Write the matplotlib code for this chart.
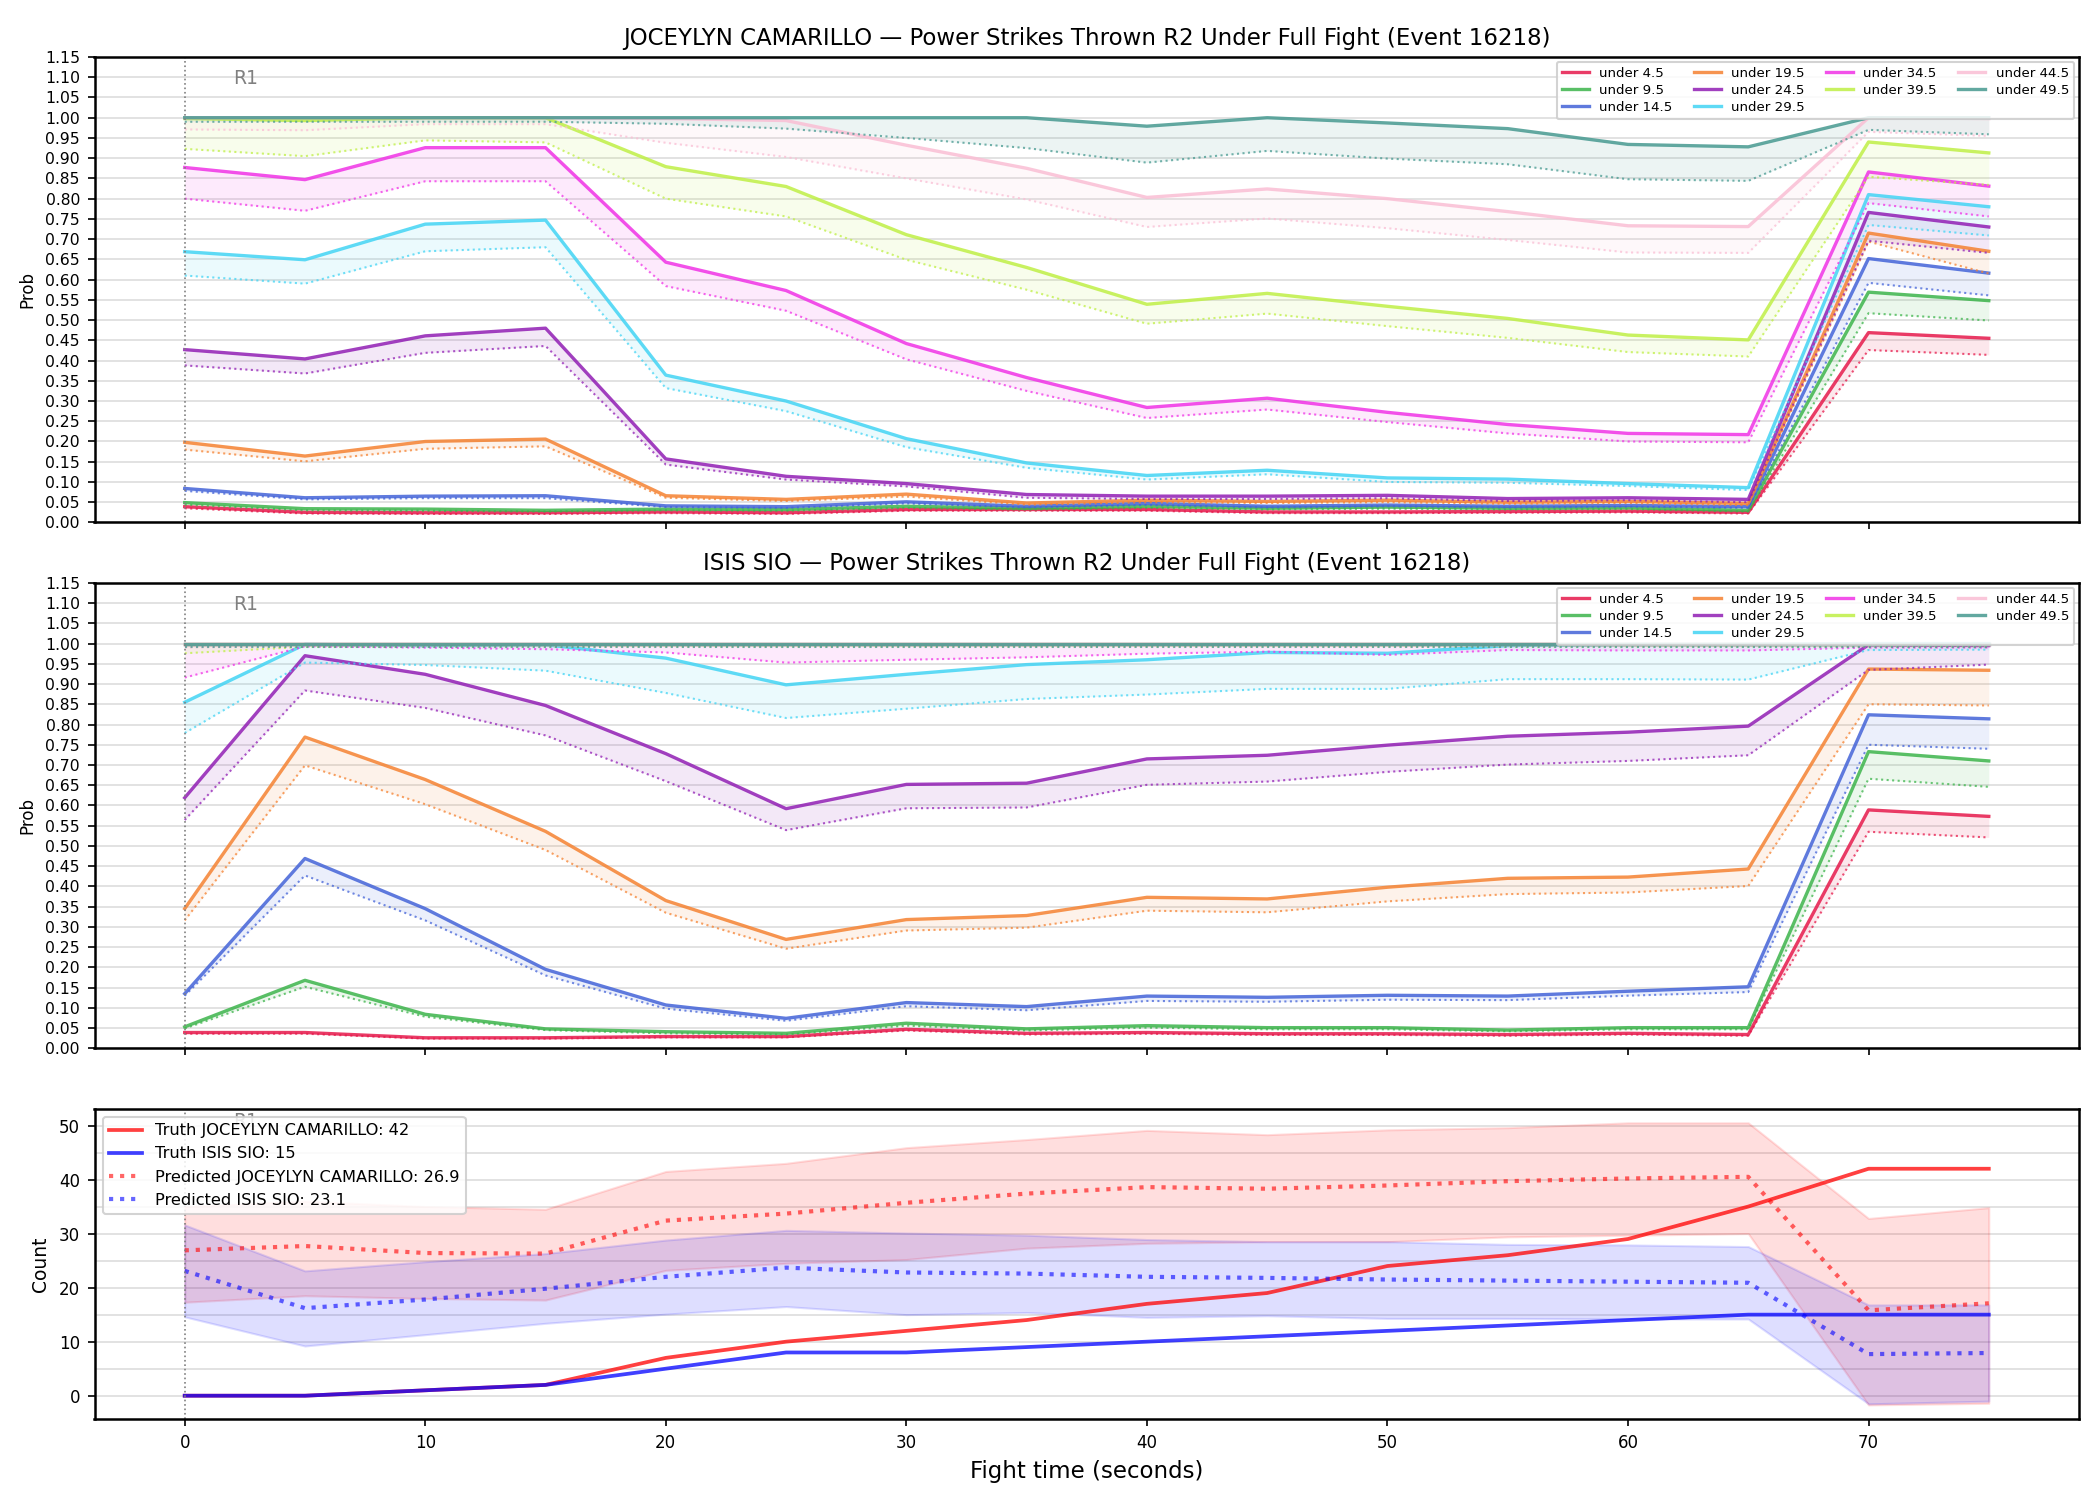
import numpy as np
import matplotlib
matplotlib.use("Agg")
import matplotlib.pyplot as plt

# Time axis (seconds)
times = [0, 5, 10, 15, 20, 25, 30, 35, 40, 45, 50, 55, 60, 65, 70, 75]

# Thresholds and colors
lines = ["4.5", "9.5", "14.5", "19.5", "24.5", "29.5", "34.5", "39.5", "44.5", "49.5"]
colors = ["#e6194b", "#3cb44b", "#4363d8", "#f58231", "#911eb4",
          "#42d4f4", "#f032e6", "#bfef45", "#fabed4", "#469990"]

# JOCEYLYN CAMARILLO - upper (solid) curves
joc_upper = [
    [0.039, 0.025, 0.024, 0.024, 0.026, 0.024, 0.032, 0.032, 0.032, 0.026, 0.026, 0.027, 0.028, 0.025, 0.469, 0.455],
    [0.049, 0.034, 0.033, 0.030, 0.033, 0.032, 0.040, 0.035, 0.040, 0.035, 0.038, 0.035, 0.036, 0.030, 0.569, 0.548],
    [0.084, 0.061, 0.065, 0.066, 0.041, 0.039, 0.051, 0.040, 0.047, 0.040, 0.043, 0.040, 0.042, 0.039, 0.652, 0.616],
    [0.198, 0.164, 0.200, 0.206, 0.066, 0.057, 0.070, 0.048, 0.055, 0.052, 0.055, 0.050, 0.052, 0.047, 0.715, 0.670],
    [0.427, 0.404, 0.461, 0.480, 0.157, 0.114, 0.096, 0.069, 0.065, 0.065, 0.067, 0.059, 0.061, 0.057, 0.766, 0.730],
    [0.669, 0.649, 0.737, 0.747, 0.364, 0.300, 0.207, 0.147, 0.116, 0.129, 0.110, 0.107, 0.096, 0.086, 0.810, 0.780],
    [0.877, 0.847, 0.926, 0.926, 0.643, 0.573, 0.442, 0.358, 0.284, 0.307, 0.272, 0.242, 0.220, 0.217, 0.866, 0.831],
    [0.998, 0.993, 1.000, 1.000, 0.879, 0.830, 0.711, 0.630, 0.539, 0.566, 0.534, 0.504, 0.463, 0.451, 0.940, 0.913],
    [1.000, 1.000, 1.000, 1.000, 0.998, 0.993, 0.932, 0.875, 0.803, 0.824, 0.800, 0.768, 0.733, 0.731, 1.000, 0.998],
    [1.000, 1.000, 1.000, 1.000, 1.000, 1.000, 1.000, 1.000, 0.979, 1.000, 0.987, 0.973, 0.934, 0.928, 1.000, 1.000],
]
# JOCEYLYN CAMARILLO - lower (dotted) curves
joc_lower = [
    [0.035, 0.022, 0.021, 0.021, 0.023, 0.021, 0.029, 0.029, 0.029, 0.023, 0.023, 0.024, 0.025, 0.022, 0.426, 0.414],
    [0.044, 0.030, 0.029, 0.027, 0.030, 0.029, 0.036, 0.032, 0.036, 0.032, 0.034, 0.032, 0.033, 0.027, 0.517, 0.499],
    [0.078, 0.057, 0.060, 0.060, 0.038, 0.036, 0.047, 0.037, 0.043, 0.037, 0.040, 0.037, 0.039, 0.036, 0.592, 0.561],
    [0.180, 0.151, 0.182, 0.188, 0.061, 0.053, 0.064, 0.044, 0.050, 0.048, 0.050, 0.046, 0.048, 0.043, 0.694, 0.615],
    [0.388, 0.368, 0.419, 0.436, 0.143, 0.106, 0.089, 0.061, 0.058, 0.058, 0.060, 0.053, 0.055, 0.050, 0.696, 0.666],
    [0.610, 0.590, 0.670, 0.680, 0.332, 0.275, 0.186, 0.135, 0.106, 0.119, 0.100, 0.098, 0.090, 0.080, 0.735, 0.709],
    [0.800, 0.770, 0.843, 0.843, 0.584, 0.523, 0.403, 0.325, 0.258, 0.279, 0.248, 0.220, 0.200, 0.198, 0.789, 0.756],
    [0.923, 0.905, 0.944, 0.939, 0.800, 0.756, 0.649, 0.575, 0.491, 0.516, 0.485, 0.456, 0.421, 0.410, 0.854, 0.834],
    [0.971, 0.969, 0.984, 0.984, 0.938, 0.903, 0.850, 0.798, 0.730, 0.751, 0.727, 0.698, 0.667, 0.666, 0.965, 0.955],
    [0.990, 0.990, 0.990, 0.990, 0.985, 0.973, 0.950, 0.925, 0.889, 0.918, 0.899, 0.885, 0.848, 0.844, 0.970, 0.959],
]

# ISIS SIO - upper (solid) curves
isis_upper = [
    [0.039, 0.039, 0.026, 0.026, 0.029, 0.029, 0.047, 0.037, 0.039, 0.036, 0.036, 0.034, 0.037, 0.034, 0.589, 0.573],
    [0.053, 0.168, 0.084, 0.048, 0.041, 0.037, 0.062, 0.048, 0.056, 0.051, 0.051, 0.045, 0.051, 0.051, 0.733, 0.710],
    [0.135, 0.469, 0.345, 0.195, 0.107, 0.074, 0.113, 0.103, 0.129, 0.126, 0.131, 0.129, 0.141, 0.152, 0.824, 0.814],
    [0.345, 0.769, 0.664, 0.536, 0.365, 0.269, 0.318, 0.328, 0.373, 0.369, 0.398, 0.420, 0.423, 0.443, 0.937, 0.934],
    [0.619, 0.970, 0.924, 0.847, 0.728, 0.592, 0.652, 0.655, 0.715, 0.724, 0.749, 0.771, 0.781, 0.796, 0.997, 0.995],
    [0.855, 0.998, 0.995, 0.997, 0.964, 0.898, 0.924, 0.948, 0.960, 0.978, 0.976, 0.995, 0.998, 0.998, 1.000, 1.000],
    [1.000, 1.000, 1.000, 1.000, 1.000, 1.000, 1.000, 1.000, 1.000, 1.000, 1.000, 1.000, 1.000, 1.000, 1.000, 1.000],
    [1.000, 1.000, 1.000, 1.000, 1.000, 1.000, 1.000, 1.000, 1.000, 1.000, 1.000, 1.000, 1.000, 1.000, 1.000, 1.000],
    [1.000, 1.000, 1.000, 1.000, 1.000, 1.000, 1.000, 1.000, 1.000, 1.000, 1.000, 1.000, 1.000, 1.000, 1.000, 1.000],
    [1.000, 1.000, 1.000, 1.000, 1.000, 1.000, 1.000, 1.000, 1.000, 1.000, 1.000, 1.000, 1.000, 1.000, 1.000, 1.000],
]
# ISIS SIO - lower (dotted) curves
isis_lower = [
    [0.036, 0.036, 0.024, 0.024, 0.027, 0.027, 0.044, 0.034, 0.036, 0.033, 0.033, 0.031, 0.034, 0.031, 0.535, 0.521],
    [0.049, 0.152, 0.078, 0.045, 0.037, 0.034, 0.056, 0.044, 0.051, 0.047, 0.047, 0.042, 0.047, 0.047, 0.666, 0.646],
    [0.130, 0.427, 0.316, 0.180, 0.098, 0.068, 0.104, 0.094, 0.117, 0.115, 0.120, 0.119, 0.130, 0.139, 0.750, 0.740],
    [0.316, 0.699, 0.603, 0.490, 0.335, 0.246, 0.291, 0.298, 0.340, 0.336, 0.363, 0.381, 0.385, 0.401, 0.850, 0.847],
    [0.564, 0.884, 0.841, 0.773, 0.660, 0.539, 0.593, 0.595, 0.651, 0.659, 0.683, 0.701, 0.710, 0.724, 0.935, 0.948],
    [0.779, 0.953, 0.947, 0.933, 0.878, 0.816, 0.839, 0.863, 0.874, 0.888, 0.888, 0.912, 0.912, 0.911, 0.984, 0.985],
    [0.916, 0.993, 0.990, 0.986, 0.978, 0.953, 0.960, 0.966, 0.975, 0.980, 0.972, 0.984, 0.983, 0.983, 0.990, 0.990],
    [0.976, 0.992, 0.993, 0.993, 0.993, 0.993, 0.993, 0.993, 0.993, 0.993, 0.993, 0.993, 0.993, 0.993, 0.993, 0.993],
    [0.990, 0.995, 0.995, 0.995, 0.995, 0.995, 0.995, 0.995, 0.995, 0.995, 0.995, 0.995, 0.995, 0.995, 0.995, 0.995],
    [0.992, 0.992, 0.992, 0.992, 0.992, 0.992, 0.992, 0.992, 0.992, 0.992, 0.992, 0.992, 0.992, 0.992, 0.992, 0.992],
]

# Count panel data
truth_joc = [0, 0, 1, 2, 7, 10, 12, 14, 17, 19, 24, 26, 29, 35, 42, 42]
truth_isis = [0, 0, 1, 2, 5, 8, 8, 9, 10, 11, 12, 13, 14, 15, 15, 15]
pred_joc = [26.9, 27.7, 26.4, 26.3, 32.4, 33.7, 35.7, 37.4, 38.6, 38.3, 38.9, 39.7, 40.2, 40.5, 15.8, 17.1]
pred_joc_hi = [35.0, 36.0, 35.0, 34.5, 41.5, 43.0, 45.9, 47.4, 49.1, 48.3, 49.2, 49.6, 50.5, 50.5, 32.8, 34.8]
pred_joc_lo = [17.3, 18.5, 18.0, 17.7, 23.2, 24.5, 25.2, 27.3, 28.2, 28.5, 28.5, 29.4, 29.7, 30.0, -1.7, -1.4]
pred_isis = [23.1, 16.2, 17.8, 19.8, 22.0, 23.7, 22.8, 22.6, 22.0, 21.8, 21.5, 21.3, 21.1, 20.9, 7.7, 7.9]
pred_isis_hi = [31.6, 23.1, 24.8, 26.3, 28.8, 30.6, 30.1, 29.7, 28.9, 28.5, 28.5, 28.0, 27.9, 27.6, 16.8, 16.8]
pred_isis_lo = [14.6, 9.2, 11.3, 13.4, 15.1, 16.5, 15.0, 15.4, 14.5, 14.8, 14.3, 14.3, 14.2, 14.2, -1.5, -1.0]

# Figure layout
fig, axes = plt.subplots(3, 1, figsize=(14, 10), dpi=150, sharex=True,
                         gridspec_kw={"height_ratios": [1.5, 1.5, 1]})
fig.subplots_adjust(left=0.045, right=0.99, top=0.962, bottom=0.054, hspace=0.146)


def prob_panel(ax, name, upper, lower):
    handles = []
    for i, lab in enumerate(lines):
        h, = ax.plot(times, upper[i], color=colors[i], lw=1.6, alpha=0.85,
                     label="under " + lab)
        ax.plot(times, lower[i], color=colors[i], lw=1.0, ls=":", alpha=0.75)
        ax.fill_between(times, lower[i], upper[i], color=colors[i], alpha=0.1, lw=0)
        handles.append(h)
    ax.set_ylim(0, 1.15)
    ax.set_yticks(np.arange(0, 1.151, 0.05))
    ax.set_yticklabels([f"{v:.2f}" for v in np.arange(0, 1.151, 0.05)])
    ax.tick_params(labelsize=7.5)
    ax.set_ylabel("Prob", fontsize=8)
    ax.grid(axis="y", color="#dddddd", lw=0.8)
    ax.set_axisbelow(True)
    ax.axvline(0, color="gray", ls=":", lw=0.8)
    ax.text(2, 0.953, "R1", transform=ax.get_xaxis_transform(), color="gray",
            fontsize=9, va="center", ha="left")
    ax.set_title(f"{name} — Power Strikes Thrown R2 Under Full Fight (Event 16218)",
                 fontsize=11)
    ax.legend(handles=handles, loc="upper right", ncol=4, fontsize=6.4,
              framealpha=0.85, labelspacing=0.3, handlelength=2.0,
              columnspacing=1.6, borderaxespad=0.35)


prob_panel(axes[0], "JOCEYLYN CAMARILLO", joc_upper, joc_lower)
prob_panel(axes[1], "ISIS SIO", isis_upper, isis_lower)

# Count panel
ax = axes[2]
ax.fill_between(times, pred_joc_lo, pred_joc_hi, color="red", alpha=0.13)
ax.fill_between(times, pred_isis_lo, pred_isis_hi, color="blue", alpha=0.13)
ax.plot(times, truth_joc, color="red", lw=1.8, alpha=0.75,
        label=f"Truth JOCEYLYN CAMARILLO: {truth_joc[-1]}")
ax.plot(times, truth_isis, color="blue", lw=1.8, alpha=0.75,
        label=f"Truth ISIS SIO: {truth_isis[-1]}")
ax.plot(times, pred_joc, color="red", lw=2, ls=":", alpha=0.6,
        label=f"Predicted JOCEYLYN CAMARILLO: {pred_joc[0]}")
ax.plot(times, pred_isis, color="blue", lw=2, ls=":", alpha=0.6,
        label=f"Predicted ISIS SIO: {pred_isis[0]}")
ax.axvline(0, color="gray", ls=":", lw=0.8)
ax.text(2, 0.958, "R1", transform=ax.get_xaxis_transform(), color="gray",
        fontsize=9, va="center", ha="left", zorder=0)
ax.set_yticks([0, 10, 20, 30, 40, 50])
ax.set_yticks([5, 15, 25, 35, 45], minor=True)
ax.tick_params(axis="y", which="minor", length=0)
ax.grid(axis="y", which="both", color="#dddddd", lw=0.8)
ax.set_axisbelow(True)
ax.tick_params(labelsize=8)
ax.set_ylabel("Count", fontsize=9)
ax.set_xlabel("Fight time (seconds)", fontsize=11)
ax.set_xticks([0, 10, 20, 30, 40, 50, 60, 70])
ax.legend(loc="upper left", fontsize=7.8, framealpha=0.85)

for a in axes:
    for s in a.spines.values():
        s.set_linewidth(1.2)

plt.savefig("out.png", dpi=150)
